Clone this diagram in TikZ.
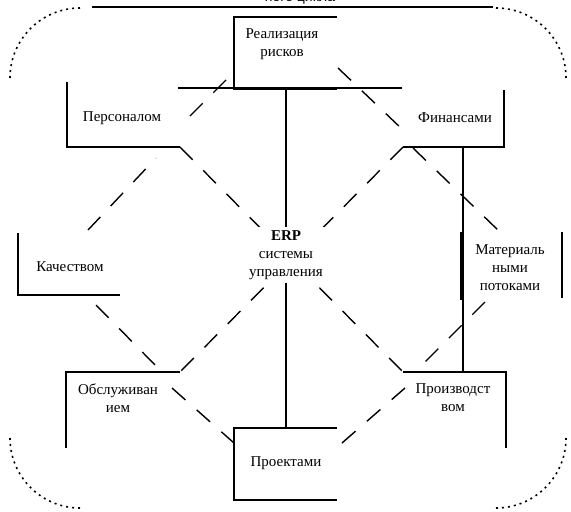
\documentclass[tikz,border=0pt]{standalone}
\usepackage{fontspec}
\setmainfont{Liberation Serif}
\newfontfamily\hdrfont{Liberation Sans}
\begin{document}
\begin{tikzpicture}[x=1pt,y=-1pt,
  frame/.style={line width=1.8pt},
  spoke/.style={line width=1.6pt},
  link/.style={line width=1.4pt, dash pattern=on 18pt off 15pt},
  corner/.style={line width=1.6pt, dash pattern=on 2pt off 4pt},
  lbl/.style={font=\fontsize{15}{18}\selectfont, align=center, inner sep=0pt}]
\useasboundingbox (0,0) rectangle (571,512);

% heading, partly cut by the page edge
\node[font=\hdrfont\fontsize{14}{16}\selectfont] (head) at (300,-1) {ного цикла};
\coordinate (hl) at (92,7);
\coordinate (hr) at (493,7);
\draw[frame] (hl) -- (hr);

% dotted rounded corners (y axis points down)
\draw[corner] (10,78) arc[start angle=180, end angle=270, radius=70];
\draw[corner] (496,8) arc[start angle=270, end angle=360, radius=70];
\draw[corner] (10,438) arc[start angle=180, end angle=90, radius=70];
\draw[corner] (496,508) arc[start angle=90, end angle=0, radius=70];

% box corners
\coordinate (tA) at (234,17);  \coordinate (tB) at (337,17);
\coordinate (tC) at (234,89);  \coordinate (tD) at (337,89);
\coordinate (pA) at (67,82);   \coordinate (pB) at (67,147);  \coordinate (pC) at (180,147);
\coordinate (fA) at (504,90);  \coordinate (fB) at (504,147); \coordinate (fC) at (403,147);
\coordinate (kA) at (18,233);  \coordinate (kB) at (18,295);  \coordinate (kC) at (120,295);
\coordinate (mA) at (461,232); \coordinate (mB) at (461,300);
\coordinate (mC) at (562,232); \coordinate (mD) at (562,298);
\coordinate (oA) at (66,448);  \coordinate (oB) at (66,372);  \coordinate (oC) at (180,372);
\coordinate (vA) at (506,448); \coordinate (vB) at (506,372); \coordinate (vC) at (403,372);
\coordinate (qA) at (337,428); \coordinate (qB) at (234,428);
\coordinate (qC) at (234,500); \coordinate (qD) at (337,500);

% dashed links between the areas
\draw[link] (pC) -- (vC);
\draw[link] (fC) -- (oC);
\draw[link] (338,68) -- (403,130);
\draw[link] (190,116) -- (234,72);
\draw[link] (88,230) -- (156,158);
\draw[link] (96,305) -- (160,370);
\draw[link] (172,388) -- (234,443);
\draw[link] (342,443) -- (405,388);
\draw[link] (413,148) -- (500,232);
\draw[link] (485,302) -- (415,372);

% box outlines
\draw[frame] (tB) -- (tA) -- (tC) -- (tD);
\draw[frame] (pA) -- (pB) -- (pC);
\draw[frame] (fA) -- (fB) -- (fC);
\draw[frame] (kA) -- (kB) -- (kC);
\draw[frame] (mA) -- (mB);
\draw[frame] (mC) -- (mD);
\draw[frame] (oA) -- (oB) -- (oC);
\draw[frame] (vA) -- (vB) -- (vC);
\draw[frame] (qA) -- (qB) -- (qC) -- (qD);

% centre
\node[lbl, fill=white, inner sep=3pt] (erp) at (286,255)
  {\textbf{ERP}\\системы\\управления};

% solid spokes
\coordinate (tm) at (286,89);
\coordinate (qm) at (286,428);
\coordinate (hL) at (178,88);
\coordinate (hR) at (402,88);
\coordinate (fm) at (463,147);
\coordinate (vm) at (463,372);
\draw[spoke] (hL) -- (hR);
\draw[spoke] (tm) -- (erp.north);
\draw[spoke] (erp.south) -- (qm);
\draw[spoke] (fm) -- (vm);

% labels
\node[lbl] (top) at (282,44) {Реализация\\рисков};
\node[lbl] (pers) at (122,118) {Персоналом};
\node[lbl] (fin) at (455,118) {Финансами};
\node[lbl] (kach) at (70,267) {Качеством};
\node[lbl, fill=white, inner sep=2pt] (mat) at (510,268) {Материаль\\ными\\потоками};
\node[lbl] (obs) at (118,398) {Обслуживан\\ием};
\node[lbl] (proi) at (453,398) {Производст\\вом};
\node[lbl] (proe) at (286,463) {Проектами};
\end{tikzpicture}
\end{document}
